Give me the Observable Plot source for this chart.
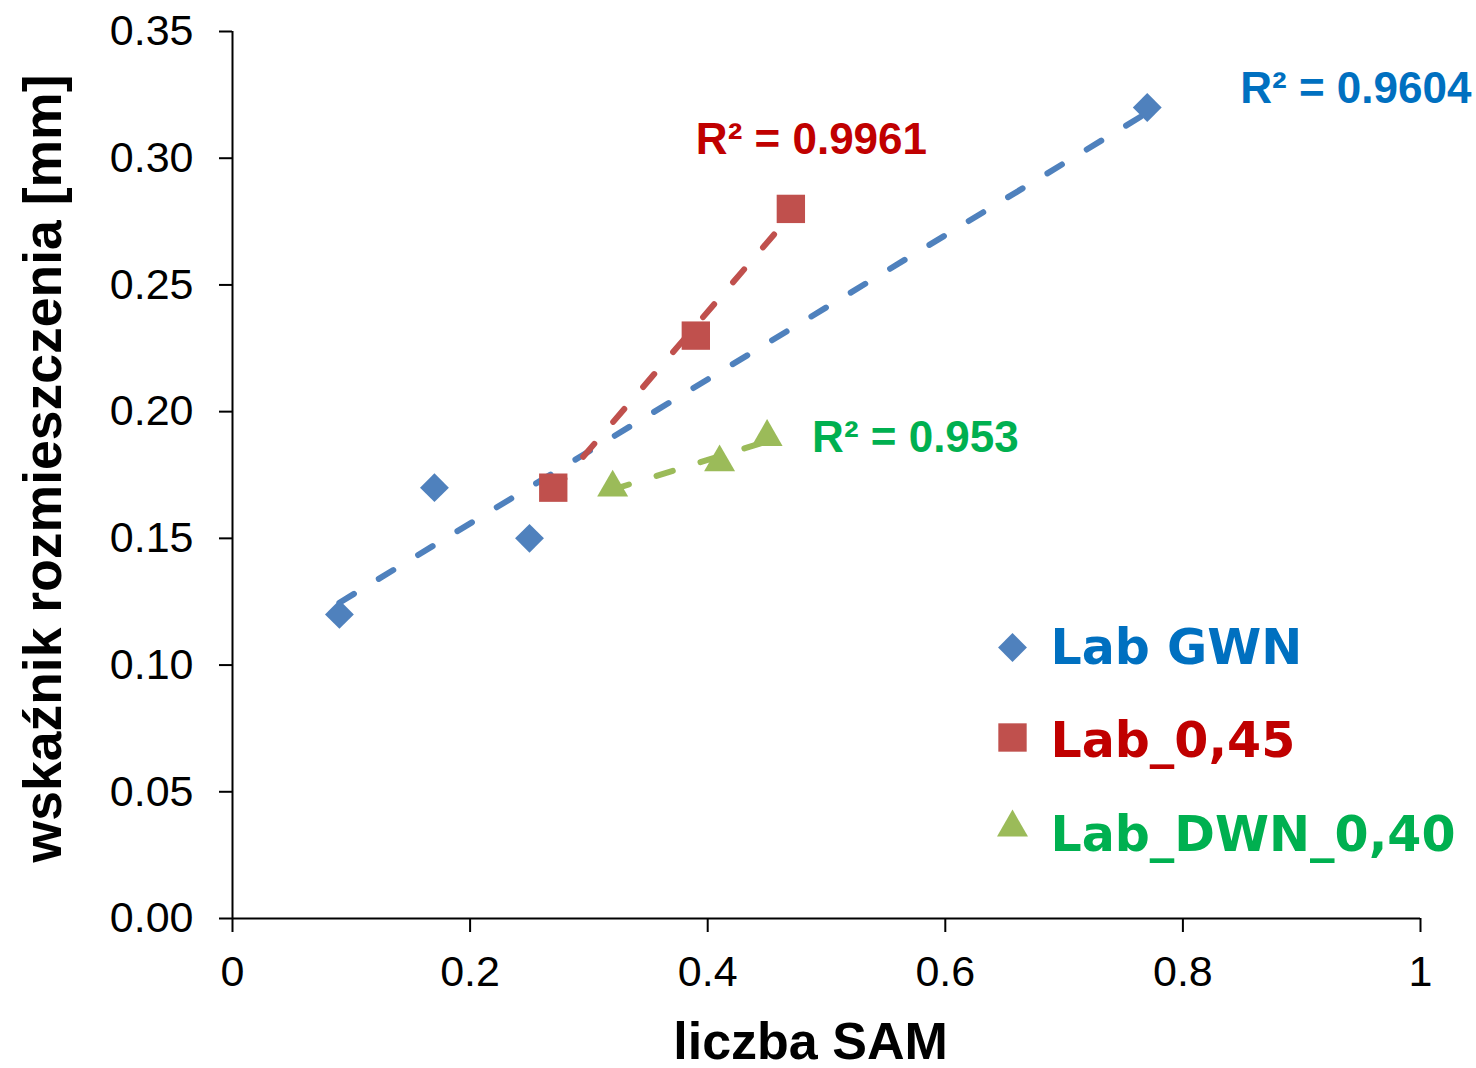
<!DOCTYPE html>
<html>
<head>
<meta charset="utf-8">
<script src="https://cdn.jsdelivr.net/npm/d3@7"></script>
<script src="https://cdn.jsdelivr.net/npm/@observablehq/plot@0.6"></script>
<style>
  html, body { margin: 0; padding: 0; background: #fff; }
  svg { overflow: visible; }
</style>
</head>
<body>
<div id="chart"></div>
<script>
// ---- data ----
const seriesNames = ["Lab GWN", "Lab_0,45", "Lab_DWN_0,40"];
const gwnX = [0.09, 0.17, 0.25, 0.77];
const gwnY = [0.12, 0.17, 0.15, 0.32];
const lab45X = [0.27, 0.39, 0.47];
const lab45Y = [0.17, 0.23, 0.28];
const dwnX = [0.32, 0.41, 0.45];
const dwnY = [0.17, 0.18, 0.19];
const r2Labels = ["R² = 0.9604", "R² = 0.9961", "R² = 0.953"];
const xTicks = [0, 0.2, 0.4, 0.6, 0.8, 1];
const xTickLabels = ["0", "0.2", "0.4", "0.6", "0.8", "1"];
const yTicks = [0, 0.05, 0.10, 0.15, 0.20, 0.25, 0.30, 0.35];
const yTickLabels = ["0.00", "0.05", "0.10", "0.15", "0.20", "0.25", "0.30", "0.35"];
const xTitle = "liczba SAM";
const yTitle = "wskaźnik rozmieszczenia [mm]";

// ---- styles ----
const markerColors = ["#4F81BD", "#C0504D", "#9BBB59"];
const textColors = ["#0070C0", "#C00000", "#00B050"];
const symbols = ["diamond2", "square", "triangle"];
const radii = [13, 16, 11.5];
const labelOffsets = [[93, -5], [-95, -55], [45, 15]];

const xs = [gwnX, lab45X, dwnX];
const ys = [gwnY, lab45Y, dwnY];
const tables = xs.map((xv, i) => xv.map((x, j) => ({x, y: ys[i][j], s: seriesNames[i]})));

const arial = "'Liberation Sans', Arial, sans-serif";
const verdana = "'DejaVu Sans', Verdana, sans-serif";

const marks = [];
// trend lines
tables.forEach((t, i) => {
  marks.push(Plot.linearRegressionY(t, {
    x: "x", y: "y", stroke: markerColors[i], ci: 0,
    strokeWidth: 6, strokeDasharray: "17,29", strokeLinecap: "round"
  }));
});
// points
tables.forEach((t, i) => {
  marks.push(Plot.dot(t, {x: "x", y: "y", symbol: () => symbols[i], r: radii[i], fill: markerColors[i], stroke: "none"}));
});
// R² labels anchored at each series' last point
tables.forEach((t, i) => {
  const last = t[t.length - 1];
  marks.push(Plot.text([last], {
    x: "x", y: "y", text: () => r2Labels[i], textAnchor: "start", lineAnchor: "bottom",
    dx: labelOffsets[i][0], dy: labelOffsets[i][1],
    fill: textColors[i], fontSize: 44, fontWeight: "bold", fontFamily: arial
  }));
});
// axes
marks.push(Plot.axisX({
  ticks: xTicks, tickFormat: (d) => xTickLabels[xTicks.indexOf(d)],
  tickSize: 14, tickPadding: 23, strokeWidth: 2, fontSize: 43, fontFamily: arial, fill: "#000", label: null
}));
marks.push(Plot.axisY({
  ticks: yTicks, tickFormat: (d) => yTickLabels[yTicks.findIndex(v => Math.abs(v - d) < 1e-9)],
  tickSize: 13, tickPadding: 26, strokeWidth: 2, fontSize: 43, fontFamily: arial, fill: "#000", label: null
}));
marks.push(Plot.ruleY([0], {stroke: "#000", strokeWidth: 2}));
marks.push(Plot.ruleX([0], {stroke: "#000", strokeWidth: 2}));
// axis titles
marks.push(Plot.text([xTitle], {
  frameAnchor: "bottom", text: d => d, textAnchor: "middle", dx: -16, dy: 140, lineAnchor: "bottom",
  fontSize: 52, fontWeight: "bold", fontFamily: arial, fill: "#000"
}));
marks.push(Plot.text([yTitle], {
  frameAnchor: "left", text: d => d, rotate: -90, textAnchor: "middle", dx: -172, dy: -6.5, lineAnchor: "bottom",
  fontSize: 53.5, fontWeight: "bold", fontFamily: arial, fill: "#000"
}));
// legend
seriesNames.forEach((name, i) => {
  marks.push(Plot.dot([name], {
    frameAnchor: "top-left", dx: 780, dy: 616 + i * 90, symbol: () => symbols[i],
    r: radii[i], fill: markerColors[i], stroke: "none"
  }));
  marks.push(Plot.text([name], {
    frameAnchor: "top-left", text: d => d, dx: 818, dy: 632 + i * 93.5,
    textAnchor: "start", lineAnchor: "bottom",
    fontSize: 49, fontWeight: "bold", fontFamily: verdana, fill: textColors[i]
  }));
});

const chart = Plot.plot({
  width: 1476,
  height: 1068,
  marginLeft: 232,
  marginRight: 56,
  marginTop: 31,
  marginBottom: 150,
  x: {domain: [0, 1]},
  y: {domain: [0, 0.35]},
  style: {fontFamily: arial, background: "#fff", overflow: "visible"},
  marks
});
document.getElementById("chart").appendChild(chart);
</script>
</body>
</html>
